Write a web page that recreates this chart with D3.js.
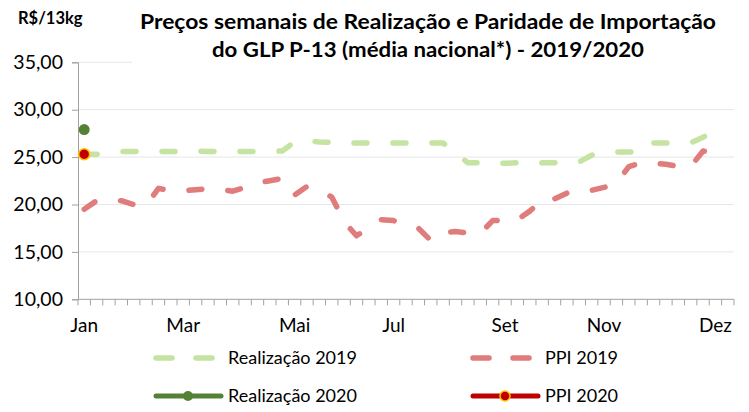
<!DOCTYPE html>
<html lang="pt">
<head>
<meta charset="UTF-8">
<script src="https://d3js.org/d3.v7.min.js"></script>
<style>
  body { margin: 0; background: #fff; }
  text { font-family: Lato, "Open Sans", sans-serif; fill: #000; }
</style>
</head>
<body>
<div id="chart"></div>
<script>
// weekly categories (53 slots), month labels shown on some of them
var weeks = d3.range(53);
var monthLabels = ["Jan", "Mar", "Mai", "Jul", "Set", "Nov", "Dez"];
var monthWeeks = [0, 8, 17, 25, 34, 42, 51];
var yTicks = [10, 15, 20, 25, 30, 35];

var real2019 = [25.3, 25.3, 25.45, 25.6, 25.6, 25.55, 25.6, 25.6, 25.6, 25.65, 25.6, 25.6, 25.6,
  25.6, 25.6, 25.6, 25.65, 26.6, 26.7, 26.6, 26.55, 26.5, 26.5, 26.5, 26.5, 26.5, 26.5, 26.5,
  26.5, 26.5, 25.45, 24.4, 24.4, 24.35, 24.35, 24.4, 24.35, 24.4, 24.4, 24.4, 24.5, 25.2,
  25.5, 25.55, 25.55, 25.55, 26.5, 26.5, 26.45, 26.5, 27.1, 27.75];
var ppi2019 = [19.5, 20.4, 20.5, 20.4, 20.0, 19.9, 21.7, 21.45, 21.45, 21.55, 21.65, 21.6, 21.4,
  21.8, 22.3, 22.5, 22.75, 21.0, 21.9, 21.4, 20.8, 18.2, 16.7, 17.55, 18.4, 18.3, 17.9, 17.5,
  16.2, 17.05, 17.15, 17.0, 16.95, 18.3, 18.3, 18.4, 19.3, 20.5, 20.6, 21.2, 21.5, 21.5,
  21.8, 22.2, 24.0, 24.4, 24.35, 24.25, 24.0, 24.0, 25.65, 25.4];
var real2020 = [27.9];
var ppi2020 = [25.3];

var W = 749, H = 412;
var x0 = 78, x1 = 734, yTop = 62.3, yBot = 299.3;

var svg = d3.select("#chart").append("svg")
  .attr("width", W).attr("height", H);
svg.append("rect").attr("width", W).attr("height", H).attr("fill", "#fff");

var x = d3.scaleBand().domain(weeks).range([x0, x1]).padding(0);
var y = d3.scaleLinear().domain([10, 35]).range([yBot, yTop]);
var cx = function (i) { return x(i) + x.bandwidth() / 2; };

// gridlines
svg.append("g").selectAll("line")
  .data(yTicks.filter(function (d) { return d > 10; }))
  .enter().append("line")
  .attr("x1", x0).attr("x2", x1)
  .attr("y1", function (d) { return y(d); })
  .attr("y2", function (d) { return y(d); })
  .attr("stroke", "#e6e6e6").attr("stroke-width", 1);

// y axis
var yAxis = svg.append("g")
  .attr("transform", "translate(" + x0 + ",0)")
  .call(d3.axisLeft(y).tickValues(yTicks).tickSize(6).tickPadding(9)
    .tickFormat(function (d) { return d3.format(".2f")(d).replace(".", ","); }));
yAxis.select(".domain").attr("stroke", "#a0a0a0");
yAxis.selectAll(".tick line").attr("stroke", "#a0a0a0");
yAxis.selectAll("text").attr("font-size", 19.5).attr("font-family", "Lato");

// x axis with ticks between categories
var xAxis = svg.append("g").attr("transform", "translate(0," + yBot + ")");
xAxis.append("line").attr("x1", x0).attr("x2", x1).attr("stroke", "#a0a0a0");
xAxis.selectAll("line.tk")
  .data(weeks.concat([53]))
  .enter().append("line").attr("class", "tk")
  .attr("x1", function (d) { return d < 53 ? x(d) : x1; })
  .attr("x2", function (d) { return d < 53 ? x(d) : x1; })
  .attr("y1", 0).attr("y2", 6)
  .attr("stroke", "#a0a0a0");
xAxis.selectAll("text")
  .data(monthWeeks)
  .enter().append("text")
  .attr("x", function (d) { return cx(d); })
  .attr("y", 33)
  .attr("text-anchor", "middle")
  .attr("font-size", 19)
  .text(function (d, i) { return monthLabels[i]; });

// lines
var line = d3.line()
  .x(function (d, i) { return cx(i); })
  .y(function (d) { return y(d); });

svg.append("path").datum(ppi2019)
  .attr("d", line).attr("fill", "none")
  .attr("stroke", "#e07c7c").attr("stroke-width", 5.5)
  .attr("stroke-dasharray", "13 26").attr("stroke-linecap", "round")
  .attr("stroke-linejoin", "round");

svg.append("path").datum(real2019)
  .attr("d", line).attr("fill", "none")
  .attr("stroke", "#c5e4a1").attr("stroke-width", 5.5)
  .attr("stroke-dasharray", "13 26").attr("stroke-linecap", "round")
  .attr("stroke-linejoin", "round");

svg.selectAll("circle.r20").data(real2020).enter().append("circle")
  .attr("class", "r20")
  .attr("cx", function (d, i) { return cx(i); })
  .attr("cy", function (d) { return y(d); })
  .attr("r", 5.5).attr("fill", "#548235");

svg.selectAll("circle.p20").data(ppi2020).enter().append("circle")
  .attr("class", "p20")
  .attr("cx", function (d, i) { return cx(i); })
  .attr("cy", function (d) { return y(d); })
  .attr("r", 5.5).attr("fill", "#c00000")
  .attr("stroke", "#ffc000").attr("stroke-width", 1.5);

// title box (covers the top gridline)
svg.append("rect").attr("x", 132).attr("y", 0).attr("width", 610).attr("height", 68).attr("fill", "#fff");
var title = svg.append("text").attr("text-anchor", "middle")
  .attr("font-weight", "bold").attr("font-size", 21);
title.append("tspan").attr("x", 428).attr("y", 29)
  .attr("textLength", 576).attr("lengthAdjust", "spacingAndGlyphs")
  .text("Preços semanais de Realização e Paridade de Importação");
title.append("tspan").attr("x", 428).attr("y", 57)
  .attr("textLength", 432).attr("lengthAdjust", "spacingAndGlyphs")
  .text("do GLP P-13 (média nacional*) - 2019/2020");

svg.append("text").attr("x", 18).attr("y", 24)
  .attr("font-weight", "bold").attr("font-size", 16.5)
  .text("R$/13kg");

// legend
var legend = [
  { name: "Realização 2019", color: "#c5e4a1", dash: true, x: 153, y: 358 },
  { name: "PPI 2019", color: "#e07c7c", dash: true, x: 470, y: 358 },
  { name: "Realização 2020", color: "#548235", dash: false, x: 153, y: 396, mk: "#548235" },
  { name: "PPI 2020", color: "#c00000", dash: false, x: 470, y: 396, mk: "#c00000", mkStroke: "#ffc000" }
];
var lg = svg.append("g").selectAll("g").data(legend).enter().append("g");
lg.append("line")
  .attr("x1", function (d) { return d.x + 3; })
  .attr("x2", function (d) { return d.dash ? d.x + 63 : d.x + 68; })
  .attr("y1", function (d) { return d.y; })
  .attr("y2", function (d) { return d.y; })
  .attr("stroke", function (d) { return d.color; })
  .attr("stroke-width", function (d) { return d.dash ? 5.5 : 5; })
  .attr("stroke-linecap", "round")
  .attr("stroke-dasharray", function (d) { return d.dash ? "16 24" : null; });
lg.filter(function (d) { return d.mk; }).append("circle")
  .attr("cx", function (d) { return d.x + 35; })
  .attr("cy", function (d) { return d.y; })
  .attr("r", 5)
  .attr("fill", function (d) { return d.mk; })
  .attr("stroke", function (d) { return d.mkStroke || "none"; })
  .attr("stroke-width", 1.5);
lg.append("text")
  .attr("x", function (d) { return d.x + 75; })
  .attr("y", function (d) { return d.y + 6; })
  .attr("font-size", 18)
  .text(function (d) { return d.name; });
</script>
</body>
</html>
